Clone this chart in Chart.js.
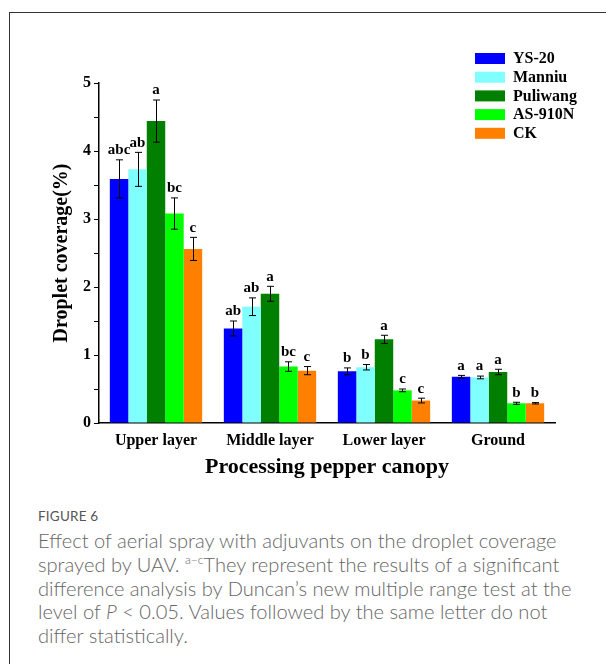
<!DOCTYPE html>
<html>
<head>
  <meta charset="utf-8" />
  <title>Droplet coverage</title>
  <script src="https://cdn.jsdelivr.net/npm/chart.js"></script>
  <style>
    body { margin: 0; width: 606px; height: 664px; overflow: hidden; background: #fff; position: relative; }
    #frame { position: absolute; left: 9px; top: 12px; width: 700px; height: 700px; border: 1px solid #333; }
    #wrap { position: absolute; left: 10px; top: 13px; width: 596px; height: 480px; }
    #caption { position: absolute; left: 38px; top: 506px; font-family: Lato, "Open Sans", sans-serif; color: #666; white-space: nowrap; }
    #caption .fig { font-size: 13.5px; color: #555; line-height: 20px; letter-spacing: 0.2px; margin-bottom: 3px; }
    #caption .txt { font-size: 20.1px; font-weight: 300; line-height: 23.8px; }
    #caption sup { font-size: 12px; line-height: 0; }
  </style>
</head>
<body>
  <div id="frame"></div>
  <div id="wrap"><canvas id="chart" width="596" height="480"></canvas></div>
  <div id="caption">
    <div class="fig">FIGURE 6</div>
    <div class="txt">Effect of aerial spray with adjuvants on the droplet coverage<br>sprayed by UAV. <sup>a–c</sup>They represent the results of a significant<br>difference analysis by Duncan’s new multiple range test at the<br>level of <i>P</i> &lt; 0.05. Values followed by the same letter do not<br>differ statistically.</div>
  </div>

  <script>
  const categories = ['Upper layer', 'Middle layer', 'Lower layer', 'Ground'];

  const ys20 = [3.59, 1.39, 0.76, 0.68];
  const ys20Err = [0.28, 0.11, 0.05, 0.02];
  const ys20Sig = ['abc', 'ab', 'b', 'a'];

  const manniu = [3.73, 1.71, 0.82, 0.67];
  const manniuErr = [0.25, 0.13, 0.04, 0.02];
  const manniuSig = ['ab', 'ab', 'b', 'a'];

  const puliwang = [4.44, 1.90, 1.23, 0.75];
  const puliwangErr = [0.31, 0.11, 0.06, 0.04];
  const puliwangSig = ['a', 'a', 'a', 'a'];

  const as910n = [3.08, 0.83, 0.48, 0.29];
  const as910nErr = [0.23, 0.07, 0.02, 0.015];
  const as910nSig = ['bc', 'bc', 'c', 'b'];

  const ck = [2.56, 0.77, 0.33, 0.29];
  const ckErr = [0.17, 0.06, 0.035, 0.01];
  const ckSig = ['c', 'c', 'c', 'b'];

  const serif = '"Liberation Serif", "Times New Roman", serif';

  function mk(label, data, err, sig, color) {
    return { label, data, err, sig, backgroundColor: color, borderWidth: 0,
             barPercentage: 1.0, categoryPercentage: 0.81 };
  }

  // error bars, significance letters and the legend box
  const extras = {
    id: 'extras',
    afterDatasetsDraw(chart) {
      const ctx = chart.ctx;
      const y = chart.scales.y;
      ctx.save();
      ctx.strokeStyle = '#000';
      ctx.lineWidth = 1;
      ctx.fillStyle = '#000';
      ctx.font = 'bold 15px ' + serif;
      ctx.textAlign = 'center';
      ctx.textBaseline = 'bottom';
      chart.data.datasets.forEach((ds, di) => {
        const meta = chart.getDatasetMeta(di);
        meta.data.forEach((bar, i) => {
          const v = ds.data[i], e = ds.err[i];
          const top = y.getPixelForValue(v + e);
          const bot = y.getPixelForValue(v - e);
          const x = Math.round(bar.x) + 0.5;
          ctx.beginPath();
          ctx.moveTo(x, top); ctx.lineTo(x, bot);
          ctx.moveTo(x - 3.5, top); ctx.lineTo(x + 3.5, top);
          ctx.moveTo(x - 3.5, bot); ctx.lineTo(x + 3.5, bot);
          ctx.stroke();
          ctx.fillText(ds.sig[i], bar.x, top - 2);
        });
      });

      // legend
      const lx = chart.chartArea.right - 80;
      const ly = chart.chartArea.top - 30;
      ctx.font = 'bold 16px ' + serif;
      ctx.textAlign = 'left';
      ctx.textBaseline = 'middle';
      chart.data.datasets.forEach((ds, di) => {
        const ty = ly + di * 18.7;
        ctx.fillStyle = ds.backgroundColor;
        ctx.fillRect(lx, ty, 30, 11);
        ctx.fillStyle = '#000';
        ctx.fillText(ds.label, lx + 38, ty + 6);
      });
      ctx.restore();
    }
  };

  new Chart(document.getElementById('chart').getContext('2d'), {
    type: 'bar',
    data: {
      labels: categories,
      datasets: [
        mk('YS-20', ys20, ys20Err, ys20Sig, '#0000ff'),
        mk('Manniu', manniu, manniuErr, manniuSig, '#80ffff'),
        mk('Puliwang', puliwang, puliwangErr, puliwangSig, '#007f00'),
        mk('AS-910N', as910n, as910nErr, as910nSig, '#00ff00'),
        mk('CK', ck, ckErr, ckSig, '#ff8000')
      ]
    },
    options: {
      responsive: false,
      animation: false,
      layout: { padding: { top: 70, right: 51, left: 0, bottom: 0 } },
      plugins: { legend: { display: false }, tooltip: { enabled: false } },
      scales: {
        x: {
          grid: { display: false, drawTicks: false },
          border: { color: '#000', width: 1.5 },
          ticks: { color: '#000', padding: 8, font: { family: serif, size: 16, weight: 'bold' } },
          title: { display: true, text: 'Processing pepper canopy', color: '#000',
                   font: { family: serif, size: 22, weight: 'bold' }, padding: { top: 0, bottom: 12 } },
          afterFit(s) { s.height = 70; }
        },
        y: {
          min: 0, max: 5,
          grid: { drawOnChartArea: false, tickLength: 5, color: '#000' },
          border: { color: '#000', width: 1.5 },
          ticks: {
            stepSize: 0.5, color: '#000', padding: 3,
            font: { family: serif, size: 16, weight: 'bold' },
            callback: v => Number.isInteger(v) ? v : ''
          },
          title: { display: true, text: 'Droplet coverage(%)', color: '#000',
                   font: { family: serif, size: 20, weight: 'bold' }, padding: { top: 40, bottom: 0 } },
          afterFit(s) { s.width = 89; }
        }
      }
    },
    plugins: [extras]
  });
  </script>
</body>
</html>
